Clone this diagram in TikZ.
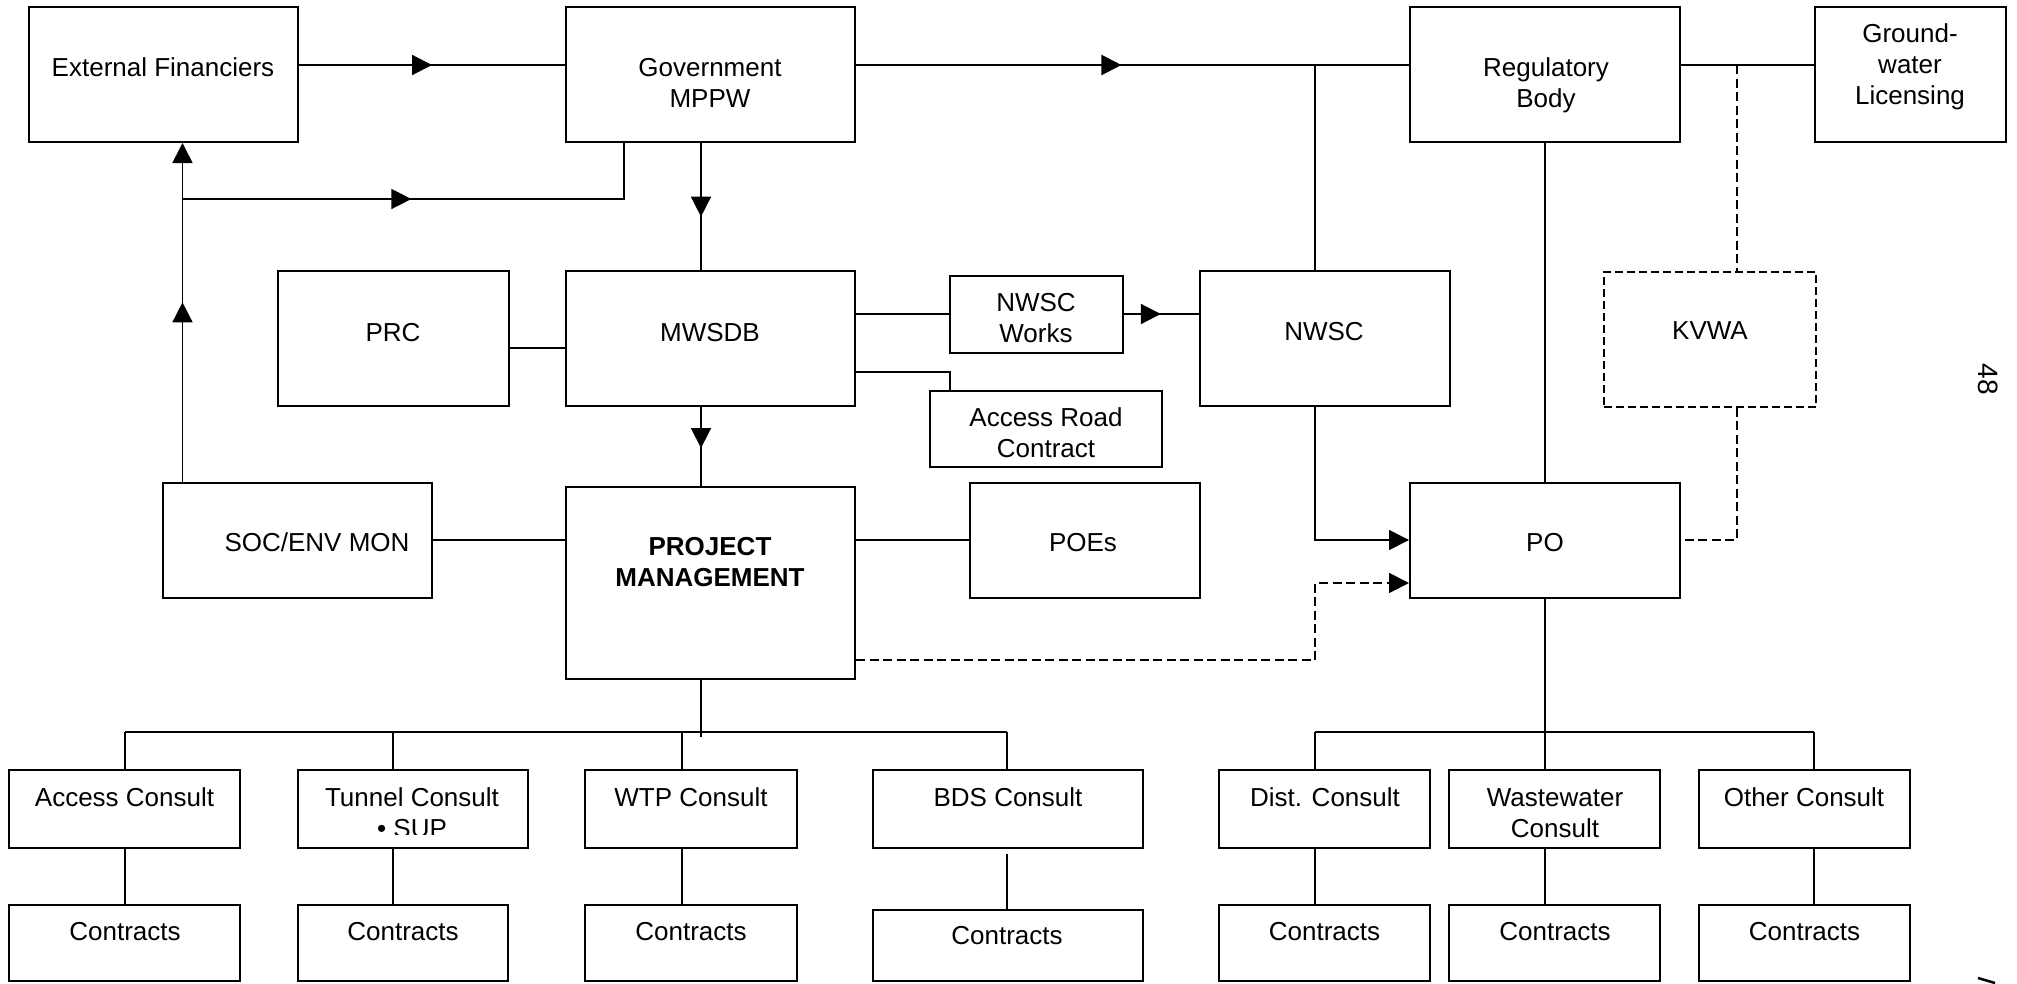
\documentclass[tikz,border=0pt]{standalone}
\usepackage{fontspec}
\setmainfont{Liberation Sans}
\usetikzlibrary{arrows.meta,decorations.markings}
\tikzset{
  box/.style={draw, line width=2pt, inner sep=0pt},
  dbox/.style={box, dash pattern=on 8pt off 4pt, line width=1.8pt},
  lbl/.style={inner sep=0pt, align=center, font=\fontsize{26}{31}\selectfont},
  conn/.style={line width=1.6pt},
  heavy/.style={line width=2.2pt},
  dsh/.style={line width=1.8pt, dash pattern=on 9pt off 4.5pt},
  midarr/.style={postaction={decorate}, decoration={markings, mark=at position #1 with {\arrow{Triangle[length=20pt,width=20pt]}}}},
  endarr/.style={-{Triangle[length=20pt,width=20pt]}},
}
\newcommand{\mkbox}[6][]{\node[box,#1,minimum width={(#4)-(#2)},minimum height={(#5)-(#3)}] (#6) at ({((#2)+(#4))/2},{((#3)+(#5))/2}) {};}
\begin{document}
\begin{tikzpicture}[x=1pt,y=-1pt]
\fill[white] (0,0) rectangle (2017,983);
\useasboundingbox (0,0) rectangle (2017,983);

% ---------- boxes ----------
\mkbox{29}{7}{298}{142}{ef}
\mkbox{566}{7}{855}{142}{gov}
\mkbox{1410}{7}{1680}{142}{reg}
\mkbox{1815}{7}{2006}{142}{gw}
\mkbox{278}{271}{509}{406}{prc}
\mkbox{566}{271}{855}{406}{mw}
\mkbox{950}{276}{1123}{353}{nww}
\mkbox{1200}{271}{1450}{406}{nwsc}
\mkbox{930}{391}{1162}{467}{arc}
\mkbox[dbox]{1604}{272}{1816}{407}{kvwa}
\mkbox{163}{483}{432}{598}{soc}
\mkbox{566}{487}{855}{679}{pm}
\mkbox{970}{483}{1200}{598}{poe}
\mkbox{1410}{483}{1680}{598}{po}
% consult row
\mkbox{9}{770}{240}{848}{c1}
\mkbox{298}{770}{528}{848}{c2}
\mkbox{585}{770}{797}{848}{c3}
\mkbox{873}{770}{1143}{848}{c4}
\mkbox{1219}{770}{1430}{848}{c5}
\mkbox{1449}{770}{1660}{848}{c6}
\mkbox{1699}{770}{1910}{848}{c7}
% contracts row
\mkbox{9}{905}{240}{981}{k1}
\mkbox{298}{905}{508}{981}{k2}
\mkbox{585}{905}{797}{981}{k3}
\mkbox{873}{910}{1143}{981}{k4}
\mkbox{1219}{905}{1430}{981}{k5}
\mkbox{1449}{905}{1660}{981}{k6}
\mkbox{1699}{905}{1910}{981}{k7}

% ---------- labels ----------
\node[lbl] (ef-t) at (163,67.5) {External Financiers};
\node[lbl] (gov-t) at (710,83) {Government\\MPPW};
\node[lbl] (reg-t) at (1546,85) {Regulatory\\Body};
\node[lbl] (gw-t) at (1910,67) {Ground-\\water\\Licensing};
\node[lbl] (prc-t) at (393,333) {PRC};
\node[lbl] (mw-t) at (710,333) {MWSDB};
\node[lbl] (nww-t) at (1036,318) {NWSC\\Works};
\node[lbl] (nwsc-t) at (1324,331.5) {NWSC};
\node[lbl] (kv-t) at (1710,331) {KVWA};
\node[lbl] (arc-t) at (1046,433) {Access Road\\Contract};
\node[lbl] (soc-t) at (317,542.5) {SOC/ENV MON};
\node[lbl, font=\fontsize{26}{31}\selectfont\bfseries] (pm-t) at (710,562.5) {PROJECT\\MANAGEMENT};
\node[lbl] (poe-t) at (1083,542.5) {POEs};
\node[lbl] (po-t) at (1545,542.5) {PO};
\node[lbl] (c1-t) at (124.5,797) {Access Consult};
\begin{scope}
\clip (298,770) rectangle (528,834);
\node[lbl] (c2-t) at (412,813) {Tunnel Consult\\• SUP};
\end{scope}
\node[lbl] (c3-t) at (691,797) {WTP Consult};
\node[lbl] (c4-t) at (1008,797) {BDS Consult};
\node[lbl] (c5-t) at (1325,797) {Dist. Consult};
\node[lbl] (c6-t) at (1555,813) {Wastewater\\Consult};
\node[lbl] (c7-t) at (1804,797) {Other Consult};
\node[lbl] (k1-t) at (125,932) {Contracts};
\node[lbl] (k2-t) at (403,932) {Contracts};
\node[lbl] (k3-t) at (691,932) {Contracts};
\node[lbl] (k4-t) at (1007,935.5) {Contracts};
\node[lbl] (k5-t) at (1324.5,932) {Contracts};
\node[lbl] (k6-t) at (1555,932) {Contracts};
\node[lbl] (k7-t) at (1804.5,932) {Contracts};
\node[lbl, rotate=-90, font=\fontsize{28}{30}\selectfont] (pg) at (1988,379) {48};

% ---------- helper coordinates ----------
\coordinate (h65) at (0,65);
\coordinate (h199) at (0,199);
\coordinate (h314) at (0,314);
\coordinate (h348) at (0,348);
\coordinate (h372) at (0,372);
\coordinate (h540) at (0,540);
\coordinate (h583) at (0,583);
\coordinate (h660) at (0,660);
\coordinate (h732) at (0,732);
\coordinate (v182) at (182.5,0);
\coordinate (v624) at (624,0);
\coordinate (v701) at (701,0);
\coordinate (v950) at (950,0);
\coordinate (v1315) at (1315,0);
\coordinate (v1545) at (1545,0);
\coordinate (v1737) at (1737,0);
\coordinate (v125) at (125,0);
\coordinate (v393) at (393,0);
\coordinate (v682) at (682,0);
\coordinate (v1007) at (1007,0);
\coordinate (v1814) at (1814,0);
\coordinate (j1) at (1315,65);
\coordinate (j2) at (1737,65);
\coordinate (j3) at (182.5,199);
\coordinate (b1) at (701,732);
\coordinate (b2) at (1545,732);

% ---------- connectors ----------
\draw[heavy, midarr=0.5] (ef.east |- h65) -- (gov.west |- h65);
\draw[heavy, midarr=0.48] (gov.east |- h65) -- (reg.west |- h65);
\draw[conn] (j1) -- (j1 |- nwsc.north);
\draw[heavy] (reg.east |- h65) -- (gw.west |- h65);
\draw[dsh] (j2) -- (j2 |- kvwa.north);
\draw[conn, endarr, midarr=0.53] (v182 |- soc.north) -- (v182 |- ef.south);
\draw[conn, midarr=0.46] (j3) -| (v624 |- gov.south);
\draw[conn, midarr=0.58] (v701 |- gov.south) -- (v701 |- mw.north);
\draw[conn] (prc.east |- h348) -- (mw.west |- h348);
\draw[conn] (mw.east |- h314) -- (nww.west |- h314);
\draw[heavy, midarr=0.49] (nww.east |- h314) -- (nwsc.west |- h314);
\draw[conn] (mw.east |- h372) -| (v950 |- arc.north);
\draw[conn, midarr=0.52] (v701 |- mw.south) -- (v701 |- pm.north);
\draw[heavy] (soc.east |- h540) -- (pm.west |- h540);
\draw[heavy] (pm.east |- h540) -- (poe.west |- h540);
\draw[conn, endarr] (v1315 |- nwsc.south) |- (po.west |- h540);
\draw[dsh, endarr] (pm.east |- h660) -| (v1315 |- h583) -- (po.west |- h583);
\draw[dsh] (v1737 |- kvwa.south) |- (po.east |- h540);
\draw[conn] (v1545 |- reg.south) -- (v1545 |- po.north);
% project management tree
\draw[conn] (v701 |- pm.south) -- ([yshift=-5pt]b1);
\draw[heavy] (v125 |- h732) -- (v1007 |- h732);
\draw[conn] (v125 |- h732) -- (v125 |- c1.north);
\draw[conn] (v393 |- h732) -- (v393 |- c2.north);
\draw[conn] (v682 |- h732) -- (v682 |- c3.north);
\draw[conn] (v1007 |- h732) -- (v1007 |- c4.north);
% PO tree
\draw[conn] (v1545 |- po.south) -- (b2);
\draw[heavy] (v1315 |- h732) -- (v1814 |- h732);
\draw[conn] (v1315 |- h732) -- (v1315 |- c5.north);
\draw[conn] (b2) -- (v1545 |- c6.north);
\draw[conn] (v1814 |- h732) -- (v1814 |- c7.north);
% consult to contracts
\draw[conn] (v125 |- c1.south) -- (v125 |- k1.north);
\draw[conn] (v393 |- c2.south) -- (v393 |- k2.north);
\draw[conn] (v682 |- c3.south) -- (v682 |- k3.north);
\draw[conn] ([yshift=-5pt]v1007 |- c4.south) -- (v1007 |- k4.north);
\draw[conn] (v1315 |- c5.south) -- (v1315 |- k5.north);
\draw[conn] (v1545 |- c6.south) -- (v1545 |- k6.north);
\draw[conn] (v1814 |- c7.south) -- (v1814 |- k7.north);
% fragment at bottom right
\draw[line width=2.5pt] (1978,978) -- (1995,983);
\end{tikzpicture}
\end{document}
